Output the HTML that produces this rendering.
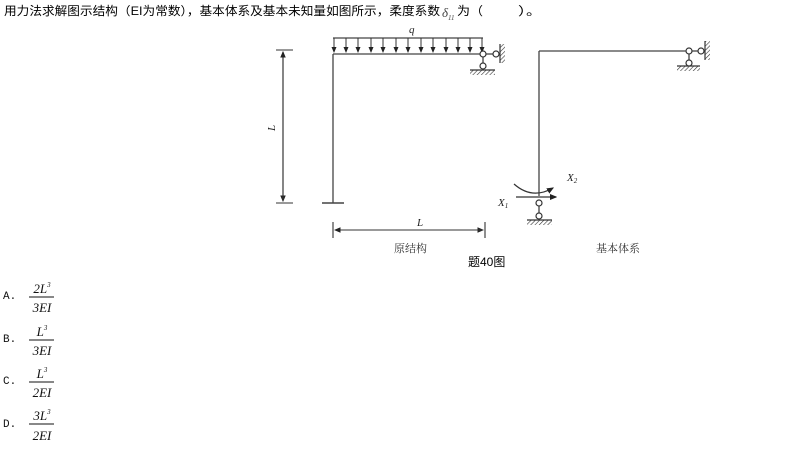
<!DOCTYPE html>
<html><head><meta charset="utf-8"><style>
body{margin:0;width:798px;height:454px;background:#fff;overflow:hidden;font-family:"Liberation Serif","Noto Serif CJK SC",serif;}
</style></head><body>
<svg width="798" height="454" style="position:absolute;left:0;top:0" font-family="Liberation Serif, Noto Serif CJK SC, serif">
<defs>
<marker id="a" markerWidth="6" markerHeight="6" refX="5" refY="3" orient="auto"><path d="M0,0.5 L6,3 L0,5.5z" fill="#222"/></marker>
<pattern id="h" width="3" height="3" patternUnits="userSpaceOnUse" patternTransform="rotate(45)"><line x1="0" y1="0" x2="0" y2="3" stroke="#333" stroke-width="1.2"/></pattern>
</defs>
<g font-family="Liberation Sans, Noto Sans CJK SC, sans-serif" font-size="12" fill="#000">
<text x="4" y="15" textLength="436" lengthAdjust="spacingAndGlyphs">用力法求解图示结构（EI为常数），基本体系及基本未知量如图所示，柔度系数</text>
<text x="457" y="15" textLength="26" lengthAdjust="spacingAndGlyphs">为（</text>
<text x="518" y="15" textLength="24" lengthAdjust="spacingAndGlyphs">）。</text>
</g>
<text x="442" y="17" font-style="italic" font-size="13" fill="#444">δ<tspan font-size="7" dy="3">11</tspan></text>
<g stroke="#444" stroke-width="1.3" fill="none">
<line x1="333" y1="54" x2="333" y2="203"/><line x1="333" y1="54" x2="480" y2="54"/>
<line x1="322" y1="203" x2="344" y2="203" stroke-width="1.6"/>
<line x1="333" y1="38" x2="483" y2="38"/>
</g>
<g stroke="#333" stroke-width="1" marker-end="url(#a)">
<line x1="334" y1="38" x2="334" y2="52"/><line x1="346" y1="38" x2="346" y2="52"/><line x1="358" y1="38" x2="358" y2="52"/><line x1="371" y1="38" x2="371" y2="52"/><line x1="383" y1="38" x2="383" y2="52"/><line x1="396" y1="38" x2="396" y2="52"/><line x1="408" y1="38" x2="408" y2="52"/><line x1="421" y1="38" x2="421" y2="52"/><line x1="433" y1="38" x2="433" y2="52"/><line x1="446" y1="38" x2="446" y2="52"/><line x1="458" y1="38" x2="458" y2="52"/><line x1="470" y1="38" x2="470" y2="52"/><line x1="482" y1="38" x2="482" y2="52"/>
</g>
<g stroke="#333" stroke-width="1.2" fill="none">
<line x1="483" y1="54" x2="496" y2="54"/><line x1="483" y1="54" x2="483" y2="66"/>
<line x1="500" y1="44" x2="500" y2="63"/><line x1="470" y1="70" x2="495" y2="70"/>
<line x1="689" y1="51" x2="701" y2="51"/><line x1="689" y1="51" x2="689" y2="63"/>
<line x1="705" y1="41" x2="705" y2="60"/><line x1="677" y1="66" x2="700" y2="66"/>
<line x1="539" y1="203" x2="539" y2="216"/><line x1="527" y1="220" x2="552" y2="220"/>
</g>
<rect x="500" y="44" width="5" height="19" fill="url(#h)"/><rect x="470" y="70" width="25" height="5" fill="url(#h)"/>
<rect x="705" y="41" width="5" height="19" fill="url(#h)"/><rect x="677" y="66" width="23" height="5" fill="url(#h)"/>
<rect x="527" y="220" width="25" height="5" fill="url(#h)"/>
<g stroke="#333" stroke-width="1.2" fill="#fff">
<circle cx="483" cy="54" r="3"/><circle cx="496" cy="54" r="3"/><circle cx="483" cy="66" r="3"/>
<circle cx="689" cy="51" r="3"/><circle cx="701" cy="51" r="3"/><circle cx="689" cy="63" r="3"/>
<circle cx="539" cy="203" r="3"/><circle cx="539" cy="216" r="3"/>
</g>
<g stroke="#444" stroke-width="1.3" fill="none">
<line x1="539" y1="51" x2="539" y2="196"/><line x1="539" y1="51" x2="686" y2="51"/>
</g>
<line x1="516" y1="197" x2="556" y2="197" stroke="#333" stroke-width="1.2" marker-end="url(#a)"/>
<path d="M514,184 Q532,200 553,188" stroke="#333" stroke-width="1.2" fill="none" marker-end="url(#a)"/>
<g stroke="#333" stroke-width="1.1">
<line x1="276" y1="50" x2="293" y2="50"/><line x1="276" y1="203" x2="293" y2="203"/>
<line x1="283" y1="52" x2="283" y2="201" marker-end="url(#a)"/><line x1="283" y1="201" x2="283" y2="52" marker-end="url(#a)"/>
<line x1="333" y1="222" x2="333" y2="238"/><line x1="485" y1="222" x2="485" y2="238"/>
<line x1="335" y1="230" x2="483" y2="230" marker-end="url(#a)"/><line x1="483" y1="230" x2="335" y2="230" marker-end="url(#a)"/>
</g>
<g font-style="italic" font-size="11" fill="#222">
<text x="409" y="33">q</text>
<text x="417" y="226">L</text>
<text transform="translate(275,131) rotate(-90)">L</text>
<text x="498" y="206">X<tspan font-size="7" dy="2">1</tspan></text>
<text x="567" y="181">X<tspan font-size="7" dy="2">2</tspan></text>
</g>
<g font-size="11" fill="#333">
<text x="394" y="252">原结构</text>
<text x="596" y="252">基本体系</text>
</g>
<text x="468" y="266" font-size="12" font-family="Liberation Sans, Noto Sans CJK SC, sans-serif" fill="#000">题40图</text>
<g font-family="Liberation Mono, monospace" font-size="11" fill="#111">
<text x="3" y="299">A.</text><text x="3" y="342">B.</text><text x="3" y="384">C.</text><text x="3" y="427">D.</text>
</g>
<g font-style="italic" font-size="13" fill="#111" text-anchor="middle">
<text x="42" y="293">2L<tspan font-size="7" dy="-6">3</tspan></text>
<line x1="29" y1="297" x2="54" y2="297" stroke="#111"/>
<text x="42" y="312">3EI</text>
<text x="42" y="336">L<tspan font-size="7" dy="-6">3</tspan></text>
<line x1="29" y1="340" x2="54" y2="340" stroke="#111"/>
<text x="42" y="355">3EI</text>
<text x="42" y="378">L<tspan font-size="7" dy="-6">3</tspan></text>
<line x1="29" y1="382" x2="54" y2="382" stroke="#111"/>
<text x="42" y="397">2EI</text>
<text x="42" y="420">3L<tspan font-size="7" dy="-6">3</tspan></text>
<line x1="29" y1="424" x2="54" y2="424" stroke="#111"/>
<text x="42" y="440">2EI</text>
</g>
</svg>
</body></html>
